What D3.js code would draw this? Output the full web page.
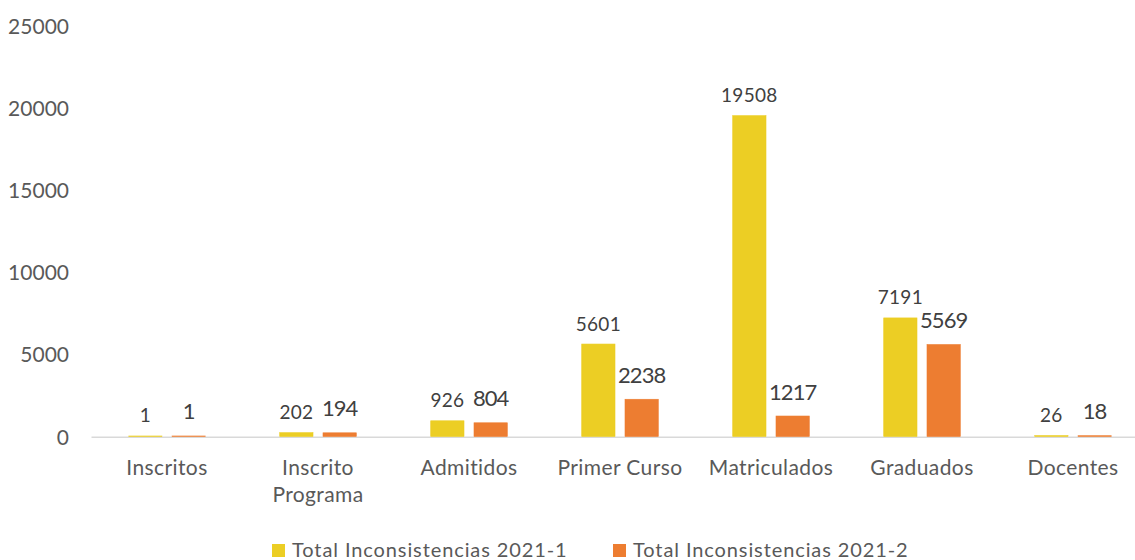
<!DOCTYPE html>
<html>
<head>
<meta charset="utf-8">
<script src="https://cdn.jsdelivr.net/npm/d3@7"></script>
<style>
  body { margin: 0; background: #fff; }
  text { font-family: Lato, "Noto Sans", sans-serif; }
</style>
</head>
<body>
<svg id="chart" width="1135" height="560"></svg>
<script>
// data
var categories = ["Inscritos", "Inscrito Programa", "Admitidos", "Primer Curso", "Matriculados", "Graduados", "Docentes"];
var seriesNames = ["Total Inconsistencias 2021-1", "Total Inconsistencias 2021-2"];
var values20211 = [1, 202, 926, 5601, 19508, 7191, 26];
var values20212 = [1, 194, 804, 2238, 1217, 5569, 18];
var yTicks = [0, 5000, 10000, 15000, 20000, 25000];
var colors = ["#ECCE24", "#ED7D31"];

var svg = d3.select("#chart");

var x0 = d3.scaleBand()
	.domain(categories)
	.range([91.5, 1148.5])
	.padding(0);

var x1 = d3.scaleBand()
	.domain(seriesNames)
	.range([0, x0.bandwidth()])
	.paddingInner(0.231)
	.paddingOuter(0.86);

var y = d3.scaleLinear()
	.domain([0, 25000])
	.range([436.5, 26]);

var rows = categories.map(function(c, i){
	return {cat: c, vals: [values20211[i], values20212[i]]};
});

// y axis labels
var yAxis = svg.append("g")
	.attr("transform", "translate(69,0)")
	.call(d3.axisLeft(y).tickValues(yTicks).tickSize(0).tickPadding(0).tickFormat(d3.format("d")));
yAxis.select(".domain").remove();
yAxis.selectAll("text")
	.attr("fill", "#595959")
	.style("font-size", "21px")
	.attr("dy", "0.36em");

// x axis line (under the bars so tiny bars still show)
svg.append("line")
	.attr("x1", x0.range()[0])
	.attr("x2", x0.range()[1])
	.attr("y1", y(0) + 0.8)
	.attr("y2", y(0) + 0.8)
	.attr("stroke", "#D9D9D9")
	.attr("stroke-width", 1.6);

// bars
var groups = svg.append("g").selectAll("g")
	.data(rows)
	.join("g")
	.attr("transform", function(d){ return "translate(" + x0(d.cat) + ",0)"; });

groups.selectAll("rect")
	.data(function(d){ return d.vals.map(function(v, j){ return {s: seriesNames[j], v: v, j: j}; }); })
	.join("rect")
	.attr("x", function(d){ return x1(d.s); })
	.attr("width", x1.bandwidth())
	.attr("y", function(d){ return y(d.v) - 0.5; })
	.attr("height", function(d){ return y(0) - y(d.v) + 0.5; })
	.attr("fill", function(d){ return colors[d.j]; })
	.attr("stroke", function(d){ return colors[d.j]; })
	.attr("stroke-width", 0.6);

// data labels
groups.selectAll("text.lbl")
	.data(function(d){ return d.vals.map(function(v, j){ return {s: seriesNames[j], v: v, j: j}; }); })
	.join("text")
	.attr("class", "lbl")
	.attr("x", function(d){ return x1(d.s) + x1.bandwidth() / 2; })
	.attr("y", function(d){ return y(d.v) - (d.j === 0 ? 14 : 17); })
	.attr("text-anchor", "middle")
	.attr("fill", "#404040")
	.style("font-size", function(d){ return d.j === 0 ? "19px" : "22px"; })
	.style("letter-spacing", function(d){ return d.j === 0 ? "0.3px" : "-1px"; })
	.text(function(d){ return d.v; });

// category labels (wrapped)
var catLabels = svg.append("g").selectAll("text")
	.data(categories)
	.join("text")
	.attr("x", function(d){ return x0(d) + x0.bandwidth() / 2; })
	.attr("y", 475)
	.attr("text-anchor", "middle")
	.attr("fill", "#595959")
	.style("font-size", "21px")
	.style("letter-spacing", "0.4px");

catLabels.each(function(d){
	var t = d3.select(this);
	var words = d === "Inscrito Programa" ? ["Inscrito", "Programa"] : [d];
	words.forEach(function(w, i){
		t.append("tspan")
			.attr("x", x0(d) + x0.bandwidth() / 2)
			.attr("dy", i === 0 ? 0 : 27)
			.text(w);
	});
});

// legend
var legendX = [272, 613];
var legend = svg.append("g").selectAll("g")
	.data(seriesNames)
	.join("g")
	.attr("transform", function(d, i){ return "translate(" + legendX[i] + ",544)"; });

legend.append("rect")
	.attr("width", 13)
	.attr("height", 13)
	.attr("fill", function(d, i){ return colors[i]; });

legend.append("text")
	.attr("x", 20)
	.attr("y", 13)
	.attr("fill", "#595959")
	.style("font-size", "20px")
	.style("letter-spacing", "0.9px")
	.text(function(d){ return d; });
</script>
</body>
</html>
